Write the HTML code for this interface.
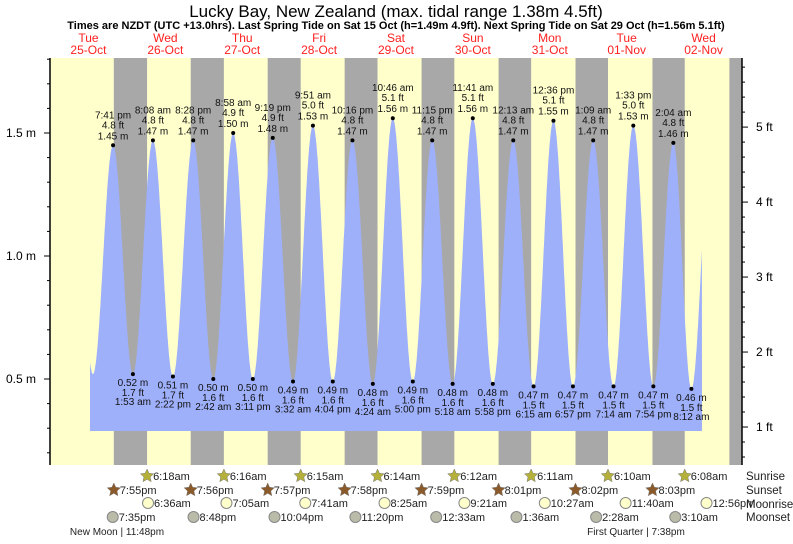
<!DOCTYPE html>
<html><head><meta charset="utf-8"><style>
body{margin:0;background:#fff;width:793px;height:539px;overflow:hidden}
svg{font-family:"Liberation Sans",sans-serif}
</style></head><body>
<svg id="chart" width="793" height="539" viewBox="0 0 793 539" xmlns="http://www.w3.org/2000/svg">
<text x="396" y="17" text-anchor="middle" font-size="17">Lucky Bay, New Zealand (max. tidal range 1.38m 4.5ft)</text>
<text x="396" y="29" text-anchor="middle" font-size="11" font-weight="bold">Times are NZDT (UTC +13.0hrs). Last Spring Tide on Sat 15 Oct (h=1.49m 4.9ft). Next Spring Tide on Sat 29 Oct (h=1.56m 5.1ft)</text>
<g id="bg"></g><g id="tide"></g><g id="axes"></g><g id="labels"></g><g id="astro"></g>
</svg>
<script>
const dayNames=["Tue","Wed","Thu","Fri","Sat","Sun","Mon","Tue","Wed"];
const dayDates=["25-Oct","26-Oct","27-Oct","28-Oct","29-Oct","30-Oct","31-Oct","01-Nov","02-Nov"];
// tide extremes: hours since 25-Oct 00:00, height m
const tideTimes=[13.4,19.68,25.88,32.13,38.37,44.7,50.97,57.18,63.32,69.53,75.85,82.07,88.27,94.4,100.77,107.0,113.25,119.3,125.68,131.97,138.22,144.6,150.95,157.15,163.23,169.55,175.9,182.07,188.33,194.57,200.2,206.5];
const tideHeights=[0.52,1.45,0.52,1.47,0.51,1.47,0.50,1.50,0.50,1.48,0.49,1.53,0.49,1.47,0.48,1.56,0.49,1.47,0.48,1.56,0.48,1.47,0.47,1.55,0.47,1.47,0.47,1.53,0.47,1.46,0.46,1.52];
const tideLabels=[null,"7:41 pm","1:53 am","8:08 am","2:22 pm","8:28 pm","2:42 am","8:58 am","3:11 pm","9:19 pm","3:32 am","9:51 am","4:04 pm","10:16 pm","4:24 am","10:46 am","5:00 pm","11:15 pm","5:18 am","11:41 am","5:58 pm","12:13 am","6:15 am","12:36 pm","6:57 pm","1:09 am","7:14 am","1:33 pm","7:54 pm","2:04 am","8:12 am",null];
const tideFt=[null,"4.8","1.7","4.8","1.7","4.8","1.6","4.9","1.6","4.9","1.6","5.0","1.6","4.8","1.6","5.1","1.6","4.8","1.6","5.1","1.6","4.8","1.5","5.1","1.5","4.8","1.5","5.0","1.5","4.8","1.5",null];
const sunrise=[30.3,54.27,78.25,102.23,126.2,150.18,174.17,198.13];
const sunriseL=["6:18am","6:16am","6:15am","6:14am","6:12am","6:11am","6:10am","6:08am"];
const sunset=[19.92,43.93,67.95,91.97,115.98,140.02,164.03,188.05,212.07];
const sunsetL=["7:55pm","7:56pm","7:57pm","7:58pm","7:59pm","8:01pm","8:02pm","8:03pm",null];
const moonrise=[30.6,55.08,79.68,104.42,129.35,154.45,179.67,204.93];
const moonriseL=["6:36am","7:05am","7:41am","8:25am","9:21am","10:27am","11:40am","12:56pm"];
const moonset=[19.58,44.8,70.07,95.33,120.55,145.6,170.47,195.17];
const moonsetL=["7:35pm","8:48pm","10:04pm","11:20pm","12:33am","1:36am","2:28am","3:10am"];
const mTicksM=[0.5,1.0,1.5];
const fTicks=[1,2,3,4,5];

const NS="http://www.w3.org/2000/svg";
const X0=50,X1=742,PT=58,PB=465,HPX=(X1-X0)/216;
const x=t=>X0+t*HPX;
const y=h=>379-(h-0.5)*246;
function mk(tag,at,par,txt){const e=document.createElementNS(NS,tag);for(const k in at)e.setAttribute(k,at[k]);if(txt!=null)e.textContent=txt;document.getElementById(par).appendChild(e);return e;}
let e=mk("rect",{x:X0,y:PT,width:X1-X0,height:PB-PT,fill:"#ffffcc"},"bg");


for(let i=0;i<sunset.length;i++){
 const s=x(sunset[i]),r=i<sunrise.length?x(sunrise[i]):X1;
 e=mk("rect",{x:s,y:PT,width:Math.min(r,X1)-s,height:PB-PT,fill:"#a8a8a8"},"bg");
 
 
}
for(let i=0;i<9;i++){
 const cx=x(i*24+12);
 e=mk("text",{x:cx,y:42,"text-anchor":"middle","font-size":"12",fill:"#ff2020"},"bg",dayNames[i]);
 
 
 e=mk("text",{x:cx,y:54,"text-anchor":"middle","font-size":"12",fill:"#ff2020"},"bg",dayDates[i]);
 
 
}
const tS=(90-X0)/HPX,tE=(702-X0)/HPX;
let d="M90,431";
for(let t=tS;t<=tE+0.001;t+=0.1){
 let k=0;while(k<tideTimes.length-2&&tideTimes[k+1]<t)k++;
 const t0=tideTimes[k],t1=tideTimes[k+1],h0=tideHeights[k],h1=tideHeights[k+1];
 const f=(t-t0)/(t1-t0);const h=h0+(h1-h0)*(1-Math.cos(Math.PI*f))/2;
 d+=" L"+x(t).toFixed(1)+","+y(h).toFixed(1);
}
d+=" L702,431 Z";
e=mk("path",{d:d,fill:"#9fb0fb"},"tide");


for(let i=0;i<tideTimes.length;i++){
 if(!tideLabels[i])continue;
 const px=x(tideTimes[i]),py=y(tideHeights[i]),hi=tideHeights[i]>1;
 e=mk("circle",{cx:px,cy:py,r:2,fill:"#000"},"labels");
 
 
 const lines=hi?[[tideLabels[i],-27],[tideFt[i]+" ft",-17],[tideHeights[i].toFixed(2)+" m",-6]]:[[tideHeights[i].toFixed(2)+" m",12],[tideFt[i]+" ft",22],[tideLabels[i],31]];
 for(const [s,o] of lines){
  e=mk("text",{x:px,y:py+o,"text-anchor":"middle","font-size":"10",fill:"#111"},"labels",s);
  
  
 }
}
e=mk("line",{x1:X0,y1:PT,x2:X0,y2:PB,stroke:"#000","stroke-width":"1.5"},"axes");


e=mk("line",{x1:X1,y1:PT,x2:X1,y2:PB,stroke:"#000","stroke-width":"1.5"},"axes");


for(let h=0.2;h<=1.85;h+=0.1){const yy=y(h);if(yy<PT||yy>PB)continue;
 const major=mTicksM.some(v=>Math.abs(v-h)<0.01);
 e=mk("line",{x1:X0-(major?6:3),y1:yy,x2:X0,y2:yy,stroke:"#000"},"axes");
 
 }
for(const v of mTicksM){e=mk("text",{x:36,y:y(v)+4,"text-anchor":"end","font-size":"12"},"axes",v.toFixed(1)+" m");
 
 }
for(let f=0.6;f<=6;f+=0.2){const yy=y(f*0.3048);if(yy<PT||yy>PB)continue;
 const major=Math.abs(f-Math.round(f))<0.01;
 e=mk("line",{x1:X1,y1:yy,x2:X1+(major?6:3),y2:yy,stroke:"#000"},"axes");
 
 }
for(const f of fTicks){e=mk("text",{x:756,y:y(f*0.3048)+4,"font-size":"12"},"axes",f+" ft");
 
 }
function star(cx,cy,col){let p="";for(let i=0;i<10;i++){const r=i%2?3.3:7,a=-Math.PI/2+i*Math.PI/5;p+=(cx+r*Math.cos(a)).toFixed(1)+","+(cy+r*Math.sin(a)).toFixed(1)+" ";}return mk("polygon",{points:p,fill:col,stroke:"#777","stroke-width":"0.5"},"astro");}
function row(ts,ls,yy,kind){for(let i=0;i<ts.length;i++){if(!ls[i])continue;const cx=x(ts[i]);
 if(kind==="sunrise")e=star(cx,yy,"#b5b03a");else if(kind==="sunset")e=star(cx,yy,"#8b5a2b");
 else e=mk("circle",{cx:cx,cy:yy,r:5.5,fill:kind==="moonrise"?"#ffffcc":"#bbbbaa",stroke:"#888"},"astro");
 
 
 e=mk("text",{x:cx+6,y:yy+4,"font-size":"11",fill:"#222"},"astro",ls[i]);
 
 }
}
row(sunrise,sunriseL,476,"sunrise");row(sunset,sunsetL,490,"sunset");row(moonrise,moonriseL,503,"moonrise");row(moonset,moonsetL,517,"moonset");
const rl=[["Sunrise",480],["Sunset",494],["Moonrise",508],["Moonset",521]];
for(const [s,yy] of rl){e=mk("text",{x:746,y:yy,"font-size":"11.5",fill:"#222"},"astro",s);
 
 }
e=mk("text",{x:117,y:535,"text-anchor":"middle","font-size":"10",fill:"#222"},"astro","New Moon | 11:48pm");


e=mk("text",{x:636,y:535,"text-anchor":"middle","font-size":"10",fill:"#222"},"astro","First Quarter | 7:38pm");


</script>
</body></html>
